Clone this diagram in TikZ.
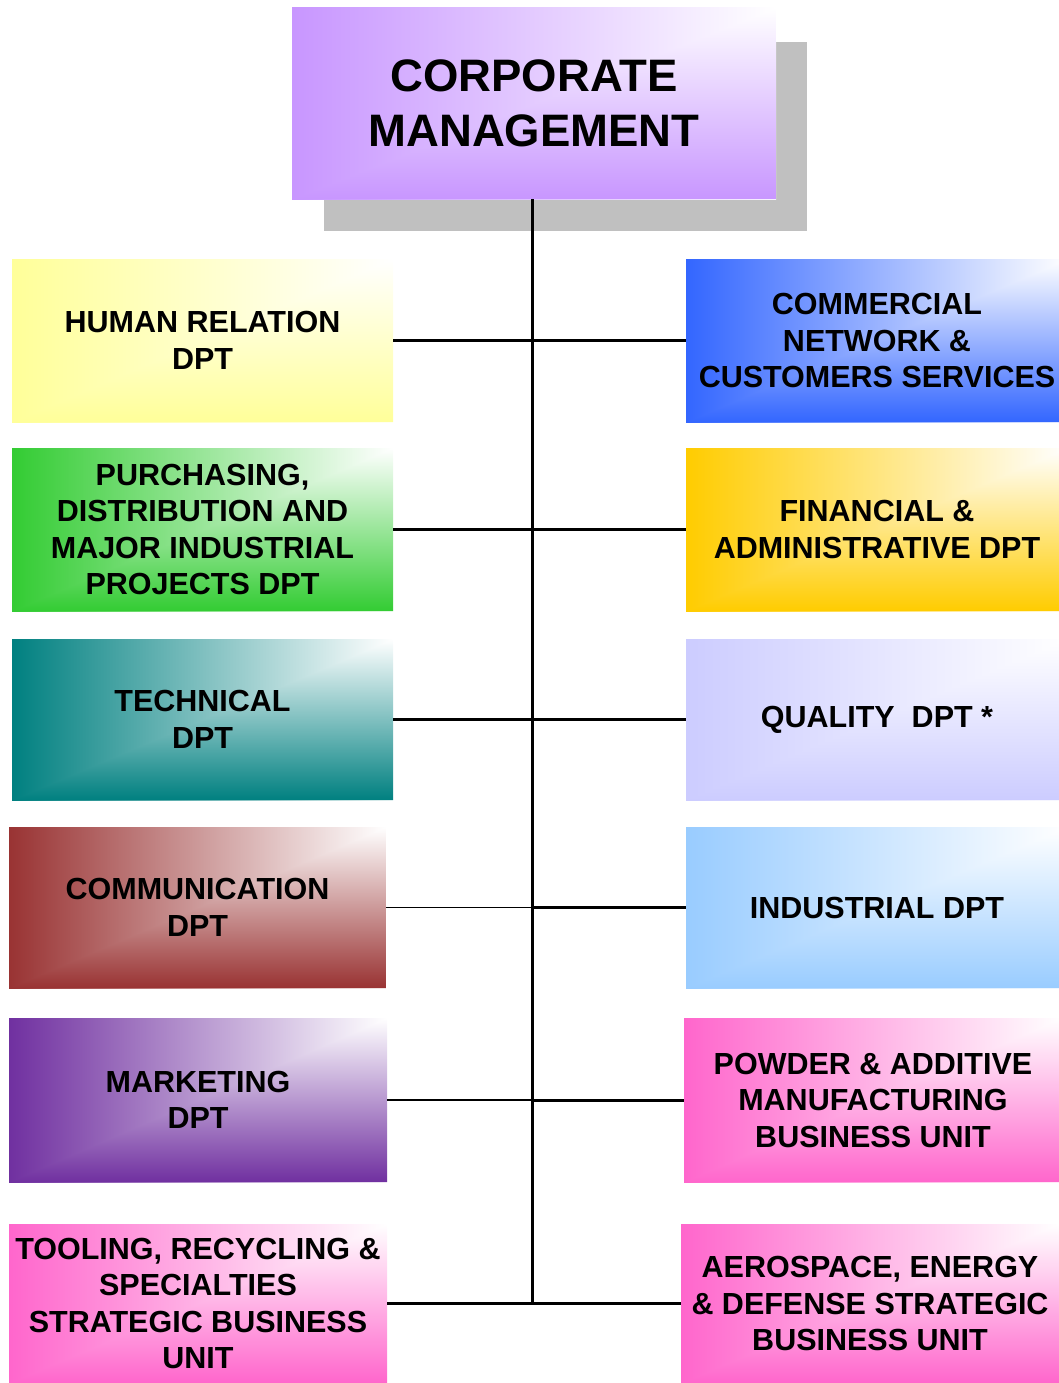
\documentclass[tikz,border=0pt]{standalone}
\usepackage{fontspec}
\setmainfont{Liberation Sans}
\definecolor{cmc}{HTML}{C896FF}
\definecolor{hrc}{HTML}{FFFF99}
\definecolor{comc}{HTML}{3366FF}
\definecolor{purc}{HTML}{33CC33}
\definecolor{finc}{HTML}{FFCC00}
\definecolor{tecc}{HTML}{008080}
\definecolor{quac}{HTML}{CCCCFF}
\definecolor{cmuc}{HTML}{993333}
\definecolor{indc}{HTML}{99CCFF}
\definecolor{mktc}{HTML}{7030A0}
\definecolor{pinkc}{HTML}{FF66CC}
\definecolor{shadowc}{HTML}{C0C0C0}
\newcommand\cornershade[1]{%
  \shade[left color=#1, right color=white] (path picture bounding box.south west) rectangle (path picture bounding box.north east);
  \begin{scope}
    \clip (path picture bounding box.south west) -- (path picture bounding box.south east) -- (path picture bounding box.north east) -- cycle;
    \shade[bottom color=#1, top color=white] (path picture bounding box.south west) rectangle (path picture bounding box.north east);
  \end{scope}}
\tikzset{
  gbox/.style={inner sep=0pt, align=center, anchor=center,
    font=\bfseries\fontsize{30.5}{36.5}\selectfont,
    path picture={\cornershade{#1}}},
  thickline/.style={line width=3pt, black},
  thinline/.style={line width=1.3pt, black},
}
\begin{document}
\begin{tikzpicture}[x=1pt,y=-1pt]
\useasboundingbox (0,0) rectangle (1059,1383);
% shadow of top box
\fill[shadowc] (324,42) rectangle (807,231);
\node[gbox=cmc, minimum width=484pt, minimum height=191pt,
  font=\bfseries\fontsize{45.5}{55}\selectfont] (cm) at (534,103.5) {CORPORATE\\MANAGEMENT};
% left column
\node[gbox=hrc, minimum width=381pt, minimum height=163pt] (hr) at (202.5,340.5) {HUMAN RELATION\\DPT};
\node[gbox=purc, minimum width=381pt, minimum height=163pt] (pur) at (202.5,529.5) {PURCHASING,\\DISTRIBUTION AND\\MAJOR INDUSTRIAL\\PROJECTS DPT};
\node[gbox=tecc, minimum width=381pt, minimum height=161pt] (tec) at (202.5,719.5) {TECHNICAL\\DPT};
\node[gbox=cmuc, minimum width=377pt, minimum height=161pt] (cmu) at (197.5,907.5) {COMMUNICATION\\DPT};
\node[gbox=mktc, minimum width=378pt, minimum height=164pt] (mkt) at (198,1100) {MARKETING\\DPT};
\node[gbox=pinkc, minimum width=378pt, minimum height=159pt] (too) at (198,1303.5) {TOOLING, RECYCLING \&\\SPECIALTIES\\STRATEGIC BUSINESS\\UNIT};
% right column
\node[gbox=comc, minimum width=382pt, minimum height=163pt] (com) at (877,340.5) {COMMERCIAL\\NETWORK \&\\CUSTOMERS SERVICES};
\node[gbox=finc, minimum width=382pt, minimum height=163pt] (fin) at (877,529.5) {FINANCIAL \&\\ADMINISTRATIVE DPT};
\node[gbox=quac, minimum width=382pt, minimum height=161pt] (qua) at (877,719.5) {QUALITY\ \ DPT *};
\node[gbox=indc, minimum width=382pt, minimum height=161pt] (ind) at (877,907.5) {INDUSTRIAL DPT};
\node[gbox=pinkc, minimum width=378pt, minimum height=164pt] (pow) at (873,1100) {POWDER \& ADDITIVE\\MANUFACTURING\\BUSINESS UNIT};
\node[gbox=pinkc, minimum width=378pt, minimum height=159pt] (aer) at (870,1303.5) {AEROSPACE, ENERGY\\\& DEFENSE STRATEGIC\\BUSINESS UNIT};
% spine
\coordinate (spine) at (532,1304);
\draw[thickline] (cm.south -| spine) -- (spine);
% connectors
\draw[thickline] (hr.east) -- (com.west);
\draw[thickline] (pur.east) -- (fin.west);
\draw[thickline] (tec.east) -- (qua.west);
\draw[thinline] (cmu.east) -- (cmu.east -| spine);
\draw[thickline] (cmu.east -| spine) -- (ind.west);
\draw[thinline] (mkt.east) -- (mkt.east -| spine);
\draw[thickline] (mkt.east -| spine) -- (pow.west);
\draw[thickline] (too.east) -- (aer.west);
\end{tikzpicture}
\end{document}
